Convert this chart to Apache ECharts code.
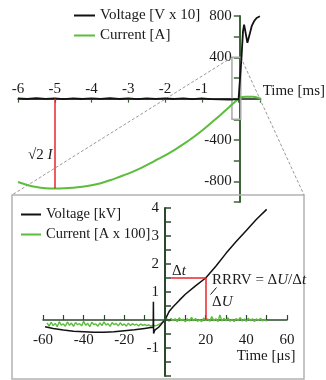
<!DOCTYPE html>
<html>
<head>
<meta charset="utf-8">
<script src="https://cdn.jsdelivr.net/npm/echarts@6/dist/echarts.min.js"></script>
<style>
  html, body { margin: 0; padding: 0; background: #fff; }
  #chart { width: 326px; height: 380px; }
</style>
</head>
<body>
<div id="chart"></div>
<script>
// ---- Overview: last 6 ms of the arc current before current zero ----
const overviewCurrentTime = [-6, -5.75, -5.5, -5.25, -5, -4.75, -4.5, -4.25, -4, -3.75, -3.5, -3.25, -3,
  -2.75, -2.5, -2.25, -2, -1.75, -1.5, -1.25, -1, -0.75, -0.5, -0.25, 0, 0.05, 0.1, 0.2, 0.3, 0.4, 0.5, 0.6];
const overviewCurrent = [-807, -835, -855, -866, -870, -868, -862, -852, -838, -818, -790, -758, -725,
  -687, -643, -596, -548, -497, -440, -378, -310, -235, -160, -80, 0, 10, 17, 19, 18, 18, 12, 0];

const overviewVoltageTime = [-6, -5.75, -5.5, -5.25, -5, -4.75, -4.5, -4.25, -4, -3.75, -3.5, -3.25, -3,
  -2.75, -2.5, -2.25, -2, -1.75, -1.5, -1.25, -1, -0.75, -0.5, -0.25, -0.1, 0, 0.03, 0.08, 0.12, 0.15,
  0.19, 0.24, 0.3, 0.36, 0.42, 0.49, 0.58];
const overviewVoltage = [2, -3, 4, -2, 3, -4, 2, -3, 3, -2, 4, -3, 2,
  -4, 3, -2, 2, -3, 3, -4, 2, -5, -6, -8, -6, -4, 0, 400, 650, 717,
  640, 540, 620, 705, 749, 781, 797];

// zoomed window marked on the overview (ms, value)
const zoomWindow = { t0: -0.18, t1: 0.06, top: 400, bottom: -200 };
// crest marker at -5 ms
const crestTime = -5;
const crestCurrent = -870;

// ---- Detail: recovery voltage around current zero (µs) ----
const detailVoltageTime = [-59, -55, -50, -45, -40, -35, -30, -25, -20, -15, -10, -7, -5.8, -5.7, -5.6,
  -5, -3, -1.5, 0, 2, 4, 7, 10, 15, 20, 25, 30, 35, 40, 45, 50];
const detailVoltage = [-0.24, -0.3, -0.36, -0.4, -0.42, -0.44, -0.44, -0.42, -0.38, -0.35, -0.3, -0.27, -0.26, 0.65, -0.48,
  -0.36, -0.25, -0.12, 0, 0.3, 0.47, 0.7, 0.92, 1.22, 1.5, 1.92, 2.38, 2.8, 3.2, 3.6, 3.95];

const detailCurrentStart = -58;  // µs, first sample
const detailCurrentStep = 1;     // µs between samples
const detailCurrent = [
  -0.10, -0.22, -0.08, -0.20, -0.12, -0.24, -0.06, -0.18, -0.14, -0.22,
  -0.07, -0.19, -0.11, -0.23, -0.09, -0.17, -0.13, -0.21, -0.05, -0.19,
  -0.12, -0.24, -0.08, -0.16, -0.14, -0.22, -0.10, -0.20, -0.07, -0.18,
  -0.13, -0.23, -0.09, -0.17, -0.12, -0.21, -0.10, -0.19, -0.14, -0.22,
  -0.11, -0.20, -0.13, -0.18, -0.15, -0.21, -0.14, -0.19, -0.16, -0.20,
  -0.17, -0.22, -0.18, -0.21, -0.19, -0.16, -0.12, -0.06,
  0.00,
  0.04, -0.05, 0.06, -0.03, 0.05, -0.06, 0.08, -0.02, 0.03, -0.07,
  0.05, -0.04, 0.10, -0.03, 0.06, -0.05, 0.02, -0.06, 0.07, -0.02,
  0.04, -0.05, 0.12, -0.03, 0.05, -0.06, 0.18, -0.04, 0.06, -0.03,
  0.08, -0.05, 0.03, -0.06, 0.05, -0.02, 0.09, -0.04, 0.04, -0.05,
  0.07, -0.03, 0.05, -0.06, 0.04, -0.02, 0.06, -0.04, 0.03, -0.05
];

// RRRV construction: slope read between these points (µs, kV)
const rrrvStart = 3;
const rrrvTime = 20;
const rrrvVoltage = 1.5;

const FONT = 'Liberation Serif';
const TEXT = '#1a1a1a';
const BLACK = '#111111';
const GREEN = '#5cbd3c';
const RED = '#e8262a';
const AXIS_GREEN = '#3b6538';
const AXIS_DARK = '#2c482c';

const zip = (xs, ys) => xs.map((x, i) => [x, ys[i]]);
const detailCurrentData = detailCurrent.map((v, i) => [detailCurrentStart + i * detailCurrentStep, v]);

// plot areas and value ranges; axes cross at zero inside each plot
const topGrid = { left: 18, top: 16, width: 244, height: 186 };
const topX = { min: -6, max: 0.6 };
const topY = { min: -1000, max: 800 };
const detGrid = { left: 43, top: 208, width: 244, height: 168 };
const detX = { min: -60, max: 60 };
const detY = { min: -2, max: 4 };

// distance from the grid's left edge to x = 0, and from its top edge to y = 0
const zeroX = (g, r) => (0 - r.min) / (r.max - r.min) * g.width;
const zeroY = (g, r) => (r.max - 0) / (r.max - r.min) * g.height;

const chart = echarts.init(document.getElementById('chart'), null, { renderer: 'canvas' });

const baseText = { fontFamily: FONT, fontSize: 15, color: TEXT };

chart.setOption({
  animation: false,
  backgroundColor: '#fff',
  textStyle: { fontFamily: FONT },
  legend: [
    {
      data: ['Voltage [V x 10]', 'Current [A]'],
      orient: 'vertical', left: 74, top: 8, padding: 0,
      icon: 'rect', itemWidth: 21, itemHeight: 2, itemGap: 5,
      textStyle: baseText,
      selectedMode: false
    },
    {
      data: ['Voltage [kV]', 'Current [A x 100]'],
      orient: 'vertical', left: 21, top: 207, padding: 0, z: 1,
      icon: 'rect', itemWidth: 20, itemHeight: 2, itemGap: 5,
      textStyle: Object.assign({}, baseText, { fontSize: 14.5 }),
      selectedMode: false
    }
  ],
  grid: [topGrid, detGrid],
  xAxis: [
    {
      gridIndex: 0, type: 'value', min: topX.min, max: topX.max, interval: 1,
      position: 'top', offset: -zeroY(topGrid, topY),
      axisLine: { onZero: false, lineStyle: { color: '#1a1a1a', width: 1.5 } },
      axisTick: { inside: true, length: 4, lineStyle: { color: AXIS_GREEN, width: 1.2 } },
      axisLabel: {
        margin: 2, fontFamily: FONT, fontSize: 15, color: TEXT,
        formatter: v => (v >= 0) ? '' : String(v)
      },
      splitLine: { show: false },
      name: 'Time [ms]', nameLocation: 'end', nameGap: 2,
      nameTextStyle: { fontFamily: FONT, fontSize: 15, color: TEXT, verticalAlign: 'bottom', padding: [0, 0, 0, 0] }
    },
    {
      gridIndex: 1, type: 'value', min: detX.min, max: detX.max, interval: 10,
      position: 'bottom', offset: -(detGrid.height - zeroY(detGrid, detY)),
      axisLine: { onZero: false, lineStyle: { color: AXIS_DARK, width: 1.5 } },
      axisTick: { inside: true, length: 5, lineStyle: { color: AXIS_DARK, width: 1.2 } },
      axisLabel: {
        margin: 13, fontFamily: FONT, fontSize: 15, color: TEXT,
        formatter: v => (v === 0 || v % 20 !== 0) ? '' : String(v)
      },
      splitLine: { show: false }
    }
  ],
  yAxis: [
    {
      gridIndex: 0, type: 'value', min: topY.min, max: topY.max, interval: 200,
      position: 'left', offset: -zeroX(topGrid, topX),
      axisLine: { onZero: false, lineStyle: { color: AXIS_GREEN, width: 2 } },
      axisTick: { inside: false, length: 6, lineStyle: { color: AXIS_GREEN, width: 1.5 } },
      axisLabel: {
        margin: 8, fontFamily: FONT, fontSize: 15, color: TEXT,
        formatter: v => (v === 0 || v === -1000 || v % 400 !== 0) ? '' : String(v)
      },
      splitLine: { show: false }
    },
    {
      gridIndex: 1, type: 'value', min: detY.min, max: detY.max, interval: 0.5, z: 5,
      position: 'left', offset: -zeroX(detGrid, detX),
      axisLine: { onZero: false, lineStyle: { color: AXIS_DARK, width: 2 } },
      axisTick: { inside: true, length: 6, lineStyle: { color: AXIS_DARK, width: 1.5 } },
      axisLabel: {
        margin: 6, fontFamily: FONT, fontSize: 15, color: TEXT, hideOverlap: false,
        formatter: v => (v === 0 || v === -2 || !Number.isInteger(v)) ? '' : String(v)
      },
      splitLine: { show: false }
    }
  ],
  series: [
    {
      name: 'Current [A]', type: 'line', xAxisIndex: 0, yAxisIndex: 0,
      data: zip(overviewCurrentTime, overviewCurrent), smooth: 0.3,
      showSymbol: false, color: GREEN, lineStyle: { width: 2, color: GREEN }, z: 3,
      markLine: {
        silent: true, symbol: ['none', 'none'], label: { show: false },
        lineStyle: { color: RED, width: 1.5, type: 'solid' },
        data: [[{ coord: [crestTime, 0] }, { coord: [crestTime, crestCurrent] }]]
      }
    },
    {
      name: 'Voltage [V x 10]', type: 'line', xAxisIndex: 0, yAxisIndex: 0,
      data: zip(overviewVoltageTime, overviewVoltage),
      showSymbol: false, color: BLACK, lineStyle: { width: 1.8, color: BLACK }, z: 4,
      markArea: {
        silent: true, label: { show: false },
        itemStyle: { color: 'rgba(0,0,0,0)', borderColor: '#a9a9a9', borderWidth: 1.5 },
        data: [[{ coord: [zoomWindow.t0, zoomWindow.top] }, { coord: [zoomWindow.t1, zoomWindow.bottom] }]]
      }
    },
    {
      name: 'Current [A x 100]', type: 'line', xAxisIndex: 1, yAxisIndex: 1,
      data: detailCurrentData,
      showSymbol: false, color: GREEN, lineStyle: { width: 1.4, color: GREEN }, z: 3
    },
    {
      name: 'Voltage [kV]', type: 'line', xAxisIndex: 1, yAxisIndex: 1,
      data: zip(detailVoltageTime, detailVoltage),
      showSymbol: false, color: BLACK, lineStyle: { width: 1.5, color: BLACK }, z: 4,
      markLine: {
        silent: true, symbol: ['none', 'none'], label: { show: false },
        lineStyle: { color: RED, width: 1.5, type: 'solid' },
        data: [
          [{ coord: [rrrvStart, rrrvVoltage] }, { coord: [rrrvTime, rrrvVoltage] }],
          [{ coord: [rrrvTime, 0] }, { coord: [rrrvTime, rrrvVoltage] }]
        ]
      }
    }
  ]
});

// Detail frame, connectors from the marked window, and annotation texts
const insetBox = { x: 12, y: 195, w: 292, h: 184 };
const winTL = chart.convertToPixel({ gridIndex: 0 }, [zoomWindow.t0, zoomWindow.top]);
const winTR = chart.convertToPixel({ gridIndex: 0 }, [zoomWindow.t1, zoomWindow.top]);
const dashStyle = { stroke: '#9a9a9a', lineWidth: 1, lineDash: [3, 2] };

const richItalic = { fontFamily: FONT, fontSize: 15, fontStyle: 'italic', fill: TEXT };
const richNormal = { fontFamily: FONT, fontSize: 15, fill: TEXT };

chart.setOption({
  graphic: [
    {
      type: 'rect', silent: true, z: 1,
      shape: { x: insetBox.x, y: insetBox.y, width: insetBox.w, height: insetBox.h },
      style: { fill: 'none', stroke: '#b3b3b3', lineWidth: 1.5 }
    },
    {
      type: 'line', silent: true, z: 1,
      shape: { x1: winTL[0], y1: winTL[1], x2: insetBox.x, y2: insetBox.y },
      style: dashStyle
    },
    {
      type: 'line', silent: true, z: 1,
      shape: { x1: winTR[0], y1: winTR[1], x2: insetBox.x + insetBox.w, y2: insetBox.y },
      style: dashStyle
    },
    {
      type: 'text', silent: true, z: 10, x: 28, y: 155,
      style: {
        text: '{n|√2 }{i|I}', verticalAlign: 'middle',
        rich: { n: richNormal, i: richItalic }
      }
    },
    {
      type: 'text', silent: true, z: 10, x: 172, y: 271,
      style: {
        text: '{n|Δ}{i|t}', verticalAlign: 'middle',
        rich: { n: richNormal, i: richItalic }
      }
    },
    {
      type: 'text', silent: true, z: 10, x: 212, y: 280,
      style: {
        text: '{n|RRRV = Δ}{i|U}{n|/Δ}{i|t}', verticalAlign: 'middle',
        rich: { n: richNormal, i: richItalic }
      }
    },
    {
      type: 'text', silent: true, z: 10, x: 212, y: 302,
      style: {
        text: '{n|Δ}{i|U}', verticalAlign: 'middle',
        rich: { n: richNormal, i: richItalic }
      }
    },
    {
      type: 'line', silent: true, z: 10,
      shape: { x1: 210.5, y1: 294.5, x2: 216.5, y2: 287.5 },
      style: { stroke: BLACK, lineWidth: 1 }
    },
    {
      type: 'text', silent: true, z: 10, x: 266, y: 356,
      style: Object.assign({ text: 'Time [μs]', align: 'center', verticalAlign: 'middle' }, richNormal)
    }
  ]
});
</script>
</body>
</html>
